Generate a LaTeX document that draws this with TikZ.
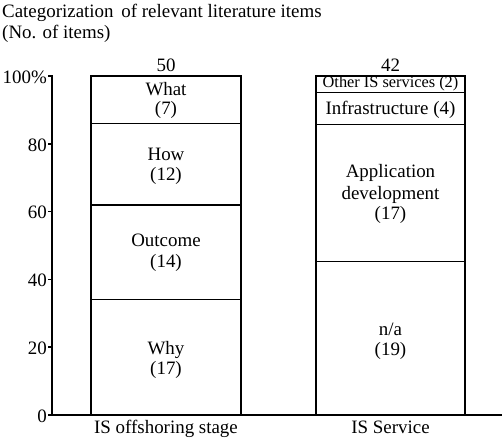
\documentclass[tikz,border=0pt]{standalone}
\usepackage{fontspec}
\setmainfont{Liberation Serif}
\begin{document}
\begin{tikzpicture}[x=1bp,y=-1bp,
  seg/.style={draw,line width=1.5bp},
  ln/.style={font=\fontsize{19}{21}\selectfont,anchor=base,inner sep=0pt},
  small/.style={font=\fontsize{16.4}{18}\selectfont,anchor=base,inner sep=0pt},
  tick/.style={font=\fontsize{19}{21}\selectfont,anchor=east,inner sep=0pt},
  axis/.style={line width=1.5bp}]
\useasboundingbox (0,0) rectangle (502,442);
% title
\node[ln,anchor=base west] (title) at (2,18) {Categorization\hspace{3bp} of relevant literature items};
\node[ln,anchor=base west] (units) at (2,39) {(No. of items)};
% axis
\coordinate (o) at (52,415);
\coordinate (top) at (52,75.5);
\coordinate (xend) at (502,415);
\draw[axis] (top) -- (o) -- (xend);
\foreach \v/\yy/\t in {0/415/0,20/347.2/20,40/279.4/40,60/211.6/60,80/143.8/80,100/76/100\%}{
  \draw[axis] (48,\yy) coordinate (tk\v) -- (52,\yy);
  \node[tick] (yl\v) at (47,\yy+1) {\t};
}
% left bar: IS offshoring stage (50)
\draw[seg] (91,415) rectangle (241,299.7);
\draw[seg] (91,299.7) rectangle (241,204.8);
\draw[seg] (91,204.8) rectangle (241,123.5);
\draw[seg] (91,123.5) rectangle (241,76);
\node[ln] (why)   at (166,354) {Why};
\node[ln] (whyn)  at (166,374) {(17)};
\node[ln] (outc)  at (166,247) {Outcome};
\node[ln] (outcn) at (166,267) {(14)};
\node[ln] (how)   at (166,161) {How};
\node[ln] (hown)  at (166,180.5) {(12)};
\node[ln] (what)  at (166,95.5) {What};
\node[ln] (whatn) at (166,115) {(7)};
\node[ln] (n50)   at (166,72) {50};
\node[ln] (xl1)   at (166,433) {IS offshoring stage};
% right bar: IS Service (42)
\draw[seg] (316,415) rectangle (465,261.5);
\draw[seg] (316,261.5) rectangle (465,124.4);
\draw[seg] (316,124.4) rectangle (465,92.3);
\draw[seg] (316,92.3) rectangle (465,76);
\node[ln] (na)     at (390.5,335) {n/a};
\node[ln] (nan)    at (390.5,355) {(19)};
\node[ln] (app)    at (390.5,178) {Application};
\node[ln] (dev)    at (390.5,199.5) {development};
\node[ln] (appn)   at (390.5,220) {(17)};
\node[ln] (infra)  at (390.5,115) {Infrastructure (4)};
\node[small] (other) at (390.5,87.5) {Other IS services (2)};
\node[ln] (n42)    at (390.5,72) {42};
\node[ln] (xl2)    at (390.5,433) {IS Service};
\end{tikzpicture}
\end{document}
